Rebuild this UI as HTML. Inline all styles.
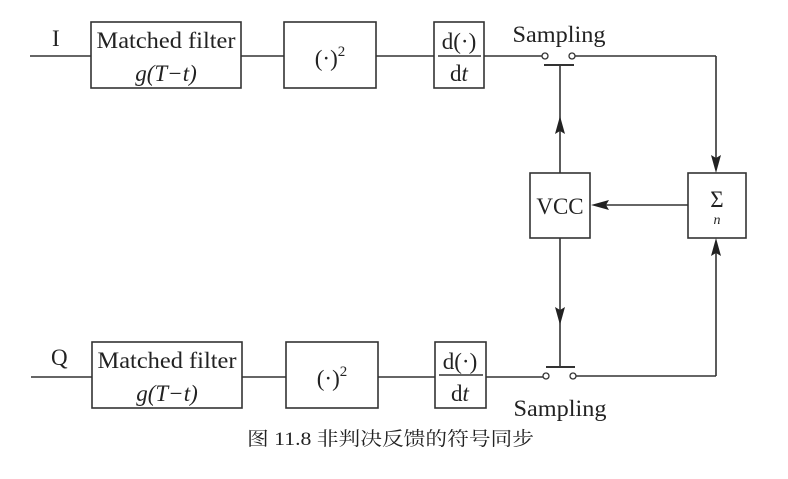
<!DOCTYPE html>
<html><head><meta charset="utf-8"><style>
html,body{margin:0;padding:0;background:#fff;}
svg{display:block;}
text{font-family:"Liberation Serif","Noto Serif CJK SC",serif;fill:#222;}
</style></head><body>
<svg width="788" height="479" viewBox="0 0 788 479" xmlns="http://www.w3.org/2000/svg">
<g stroke="#333" stroke-width="1.6" fill="none">
<line x1="30" y1="56" x2="91" y2="56"/>
<rect x="91" y="22" width="150" height="66"/>
<line x1="241" y1="56" x2="284" y2="56"/>
<rect x="284" y="22" width="92" height="66"/>
<line x1="376" y1="56" x2="434" y2="56"/>
<rect x="434" y="22" width="50" height="66"/>
<line x1="438" y1="56" x2="481" y2="56"/>
<line x1="484" y1="56" x2="542" y2="56"/>
<circle cx="545" cy="56" r="3" stroke-width="1.3"/>
<circle cx="572" cy="56" r="3" stroke-width="1.3"/>
<line x1="544" y1="65" x2="574" y2="65" stroke-width="2"/>
<line x1="575" y1="56" x2="716" y2="56"/>
<line x1="716" y1="56" x2="716" y2="160"/>
<line x1="560" y1="173" x2="560" y2="66"/>
<rect x="530" y="173" width="60" height="65"/>
<rect x="688" y="173" width="58" height="65"/>
<line x1="688" y1="205" x2="600" y2="205"/>
<line x1="560" y1="238" x2="560" y2="366"/>
<line x1="31" y1="377" x2="92" y2="377"/>
<rect x="92" y="342" width="150" height="66"/>
<line x1="242" y1="377" x2="286" y2="377"/>
<rect x="286" y="342" width="92" height="66"/>
<line x1="378" y1="377" x2="435" y2="377"/>
<rect x="435" y="342" width="51" height="66"/>
<line x1="439" y1="375" x2="483" y2="375"/>
<line x1="486" y1="377" x2="543" y2="377"/>
<circle cx="546" cy="376" r="3" stroke-width="1.3"/>
<circle cx="573" cy="376" r="3" stroke-width="1.3"/>
<line x1="546" y1="367" x2="575" y2="367" stroke-width="2"/>
<line x1="576" y1="376" x2="716" y2="376"/>
<line x1="716" y1="376" x2="716" y2="250"/>
</g>
<g fill="#222">
<path d="M560,116 L555,134 L560,131 L565,134Z"/>
<path d="M560,325 L555,307 L560,310 L565,307Z"/>
<path d="M716,173 L711,155 L716,158 L721,155Z"/>
<path d="M716,238 L711,256 L716,253 L721,256Z"/>
<path d="M591,205 L609,200 L606,205 L609,210Z"/>
</g>
<g font-size="23">
<text x="52" y="46">I</text>
<text x="166" y="48" text-anchor="middle" textLength="139" lengthAdjust="spacingAndGlyphs">Matched filter</text>
<text x="166" y="81" text-anchor="middle" font-style="italic">g(T−t)</text>
<text x="330" y="66" text-anchor="middle">(·)<tspan font-size="15" dy="-10">2</tspan></text>
<text x="459" y="49" text-anchor="middle">d(·)</text>
<text x="459" y="81" text-anchor="middle">d<tspan font-style="italic">t</tspan></text>
<text x="559" y="42" text-anchor="middle" textLength="93" lengthAdjust="spacingAndGlyphs">Sampling</text>
<text x="560" y="214" text-anchor="middle">VCC</text>
<text x="717" y="207" text-anchor="middle">Σ</text>
<text x="717" y="224" text-anchor="middle" font-size="14" font-style="italic">n</text>
<text x="51" y="365">Q</text>
<text x="167" y="368" text-anchor="middle" textLength="139" lengthAdjust="spacingAndGlyphs">Matched filter</text>
<text x="167" y="401" text-anchor="middle" font-style="italic">g(T−t)</text>
<text x="332" y="386" text-anchor="middle">(·)<tspan font-size="15" dy="-10">2</tspan></text>
<text x="460" y="369" text-anchor="middle">d(·)</text>
<text x="460" y="401" text-anchor="middle">d<tspan font-style="italic">t</tspan></text>
<text x="560" y="416" text-anchor="middle" textLength="93" lengthAdjust="spacingAndGlyphs">Sampling</text>
</g>
<text x="247" y="445" font-size="19" textLength="287" lengthAdjust="spacingAndGlyphs">图 11.8 非判决反馈的符号同步</text>
</svg>
</body></html>
